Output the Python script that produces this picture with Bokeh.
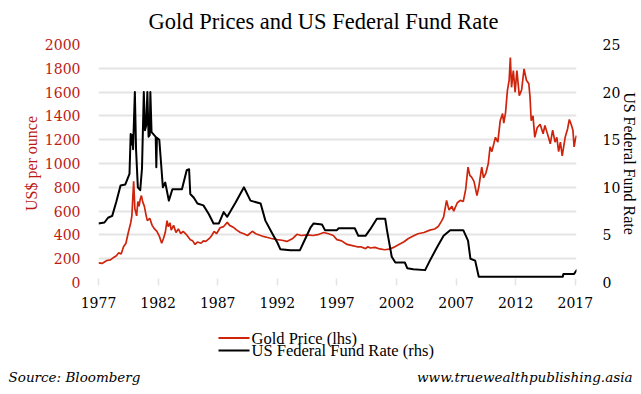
from bokeh.plotting import figure
from bokeh.layouts import column
from bokeh.models import (Range1d, LinearAxis, FixedTicker, Label, ColumnDataSource)
from bokeh.embed import file_html
from bokeh.resources import INLINE

# ---------------- data ----------------
year_ticks = [1977, 1982, 1987, 1992, 1997, 2002, 2007, 2012, 2017]
gold_ticks = [0, 200, 400, 600, 800, 1000, 1200, 1400, 1600, 1800, 2000]
rate_ticks = [0, 5, 10, 15, 20, 25]

gold_year = [1977.0, 1977.3, 1977.7, 1978.0, 1978.3, 1978.5, 1978.7, 1978.9, 1979.1, 1979.3,
             1979.5, 1979.7, 1979.8, 1979.95, 1980.05, 1980.2, 1980.3, 1980.4, 1980.5, 1980.6,
             1980.7, 1980.85, 1981.0, 1981.1, 1981.3, 1981.5, 1981.7, 1981.9, 1982.1, 1982.3,
             1982.45, 1982.6, 1982.75, 1982.85, 1983.0, 1983.1, 1983.3, 1983.5, 1983.7, 1983.9,
             1984.1, 1984.4, 1984.7, 1984.9, 1985.1, 1985.3, 1985.6, 1985.8, 1986.0, 1986.3,
             1986.5, 1986.7, 1986.9, 1987.2, 1987.5, 1987.8, 1988.0, 1988.3, 1988.6, 1988.9,
             1989.2, 1989.5, 1989.9, 1990.2, 1990.6, 1990.9, 1991.1, 1991.5, 1992.0, 1992.4,
             1992.8, 1993.3, 1993.65, 1994.0, 1994.5, 1995.0, 1995.5, 1995.9, 1996.3, 1996.7,
             1997.0, 1997.4, 1997.85, 1998.3, 1998.7, 1999.0, 1999.4, 1999.6, 1999.8, 2000.2,
             2000.6, 2001.0, 2001.4, 2001.75, 2002.2, 2002.6, 2003.0, 2003.4, 2003.8, 2004.3,
             2004.8, 2005.2, 2005.5, 2005.8, 2005.95, 2006.2, 2006.4, 2006.65, 2006.8, 2007.1,
             2007.35, 2007.6, 2007.8, 2008.0, 2008.15, 2008.3, 2008.5, 2008.75, 2008.9, 2009.15,
             2009.3, 2009.5, 2009.7, 2009.85, 2010.0, 2010.3, 2010.5, 2010.7, 2010.9, 2011.0,
             2011.15, 2011.3, 2011.45, 2011.55, 2011.65, 2011.8, 2011.95, 2012.1, 2012.3, 2012.5,
             2012.7, 2012.9, 2013.1, 2013.2, 2013.3, 2013.45, 2013.6, 2013.8, 2014.05, 2014.3,
             2014.45, 2014.6, 2014.75, 2014.9, 2015.1, 2015.3, 2015.45, 2015.6, 2015.75, 2015.9,
             2016.15, 2016.35, 2016.5, 2016.65, 2016.8, 2016.9, 2017.0, 2017.1]
gold_price = [165, 160, 185, 190, 213, 225, 250, 240, 300, 330,
              420, 500, 560, 850, 620, 560, 680, 640, 700, 730,
              680, 640, 560, 520, 540, 480, 450, 430, 390, 330,
              370, 420, 520, 470, 500, 440, 480, 420, 450, 410,
              430, 400, 360, 350, 320, 340, 330, 350, 345, 370,
              395, 430, 410, 460, 470, 505, 480, 465, 440, 420,
              410, 395, 430, 410, 395, 385, 380, 370, 360, 355,
              345, 370, 405, 395, 400, 395, 405, 420, 410, 395,
              360, 350, 320, 310, 300, 300, 285, 300, 290, 295,
              282, 275, 280, 295, 320, 340, 370, 390, 410, 420,
              440, 450, 470, 520, 550, 690, 610, 640, 600, 670,
              690, 680, 780, 970, 900, 885, 850, 730, 800, 970,
              880, 920, 1000, 1140, 1100, 1220, 1180, 1360, 1420, 1340,
              1430, 1610, 1700, 1890, 1640, 1780, 1600, 1780, 1570, 1620,
              1795, 1700, 1670, 1560, 1360, 1400, 1220, 1300, 1330, 1250,
              1320, 1270, 1220, 1165, 1280, 1180, 1220, 1100, 1180, 1065,
              1220, 1290, 1370, 1330, 1280, 1140, 1200, 1235]

rate_year = [1977.0, 1977.5, 1977.8, 1978.15, 1978.5, 1978.85, 1979.25, 1979.6, 1979.7, 1979.8,
             1979.85, 1979.9, 1980.05, 1980.15, 1980.3, 1980.5, 1980.65, 1980.8, 1980.9, 1981.0,
             1981.1, 1981.2, 1981.3, 1981.35, 1981.45, 1981.8, 1981.85, 1981.9, 1982.1, 1982.4,
             1982.6, 1982.9, 1983.2, 1984.0, 1984.4, 1984.6, 1984.7, 1985.0, 1985.3, 1985.8,
             1986.25, 1986.65, 1987.1, 1987.5, 1987.8, 1988.5, 1989.2, 1989.75, 1990.6, 1991.0,
             1991.6, 1992.0, 1992.25, 1993.1, 1993.9, 1994.2, 1994.8, 1995.05, 1995.75, 1996.0,
             1997.0, 1997.15, 1998.5, 1998.8, 1999.4, 1999.8, 2000.35, 2001.05, 2001.2, 2001.6,
             2001.9, 2002.7, 2002.9, 2003.4, 2004.4, 2004.8, 2005.4, 2005.95, 2006.5, 2007.6,
             2008.0, 2008.2, 2008.6, 2008.9, 2015.95, 2016.0, 2016.9, 2017.0, 2017.15]
rate_value = [6.2, 6.3, 6.8, 7.0, 8.5, 10.2, 10.3, 11.4, 15.6, 14.5,
              15.5, 14.0, 20.0, 14.0, 10.0, 9.7, 12.0, 20.0, 16.0, 16.5,
              20.0, 15.3, 15.5, 20.0, 15.8, 15.3, 12.1, 15.2, 15.0, 10.0,
              10.5, 8.6, 9.8, 9.8, 11.8, 11.9, 9.3, 8.9, 8.3, 8.1,
              7.2, 6.2, 6.2, 7.4, 6.9, 8.4, 10.0, 8.6, 8.3, 6.5,
              5.1, 4.2, 3.5, 3.4, 3.4, 4.2, 5.8, 6.2, 6.1, 5.5,
              5.5, 5.7, 5.7, 4.9, 4.9, 5.6, 6.7, 6.7, 5.5, 2.7,
              2.1, 2.1, 1.5, 1.4, 1.3, 2.3, 3.7, 4.9, 5.5, 5.5,
              4.4, 2.5, 2.3, 0.6, 0.6, 0.9, 0.9, 1.1, 1.35]

legend_labels = ["Gold Price (lhs)", "US Federal Fund Rate (rhs)"]
title_text = "Gold Prices and US Federal Fund Rate"
source_text = "Source: Bloomberg"
site_text = "www.truewealthpublishing.asia"

# ---------------- styling ----------------
RED_LINE = "#CF240C"
RED_TEXT = "#BC1A14"
GRID = "#E4E4E4"
SERIF = "Liberation Serif"
NUM = "DejaVu Serif"
W = 641


def blank(h):
    f = figure(width=W, height=h, output_backend="svg", toolbar_location=None,
               x_range=Range1d(0, W), y_range=Range1d(h, 0),
               x_axis_type=None, y_axis_type=None, min_border=0,
               min_border_left=0, min_border_right=0, min_border_top=0,
               min_border_bottom=0, frame_align=False,
               outline_line_color=None, background_fill_color="white",
               border_fill_color="white")
    f.xgrid.visible = False
    f.ygrid.visible = False
    return f


# ---- title strip ----
top = blank(36)
top.add_layout(Label(x=323, y=21, text=title_text, text_font=SERIF,
                     text_font_size="22.5px", text_color="black",
                     text_align="center", text_baseline="middle"))

# ---- main chart ----
p = figure(width=W, height=286, output_backend="svg", toolbar_location=None,
           x_range=Range1d(1977, 2017.1), y_range=Range1d(0, 2000),
           min_border_left=98, min_border_right=65, min_border_top=8,
           min_border_bottom=40, background_fill_color="white",
           border_fill_color="white", outline_line_color=None,
           frame_align=False)
p.extra_y_ranges = {"rate": Range1d(0, 25)}

src_g = ColumnDataSource(dict(x=gold_year, y=gold_price))
src_r = ColumnDataSource(dict(x=rate_year, y=rate_value))
p.line("x", "y", source=src_g, line_color=RED_LINE, line_width=1.7)
p.line("x", "y", source=src_r, line_color="black", line_width=2,
       y_range_name="rate", line_join="round")

p.xgrid.grid_line_color = None
p.ygrid.grid_line_color = GRID
p.ygrid.grid_line_width = 2
p.ygrid.ticker = FixedTicker(ticks=gold_ticks)

xa = p.xaxis[0]
xa.ticker = FixedTicker(ticks=year_ticks)
xa.major_label_overrides = {y: str(y) for y in year_ticks}
xa.axis_line_color = None
xa.major_tick_line_color = GRID
xa.major_tick_line_width = 1.5
xa.major_tick_in = 4
xa.major_tick_out = 3
xa.minor_tick_line_color = None
xa.major_label_standoff = 11
xa.major_label_text_font = NUM
xa.major_label_text_font_size = "14px"
xa.major_label_text_color = "black"

ya = p.yaxis[0]
ya.ticker = FixedTicker(ticks=gold_ticks)
ya.axis_line_color = None
ya.major_tick_line_color = None
ya.minor_tick_line_color = None
ya.major_label_standoff = 12
ya.major_label_text_font = NUM
ya.major_label_text_font_size = "14px"
ya.major_label_text_color = RED_TEXT
ya.axis_label = "US$ per ounce"
ya.axis_label_text_font = SERIF
ya.axis_label_text_font_style = "normal"
ya.axis_label_text_font_size = "16px"
ya.axis_label_text_color = RED_TEXT
ya.axis_label_standoff = 2

ra = LinearAxis(y_range_name="rate", ticker=FixedTicker(ticks=rate_ticks))
ra.axis_line_color = None
ra.major_tick_line_color = None
ra.minor_tick_line_color = None
ra.major_label_standoff = 20
ra.major_label_text_font = NUM
ra.major_label_text_font_size = "14px"
ra.major_label_text_color = "black"
ra.axis_label = "US Federal Fund Rate"
ra.axis_label_text_font = SERIF
ra.axis_label_text_font_style = "normal"
ra.axis_label_text_font_size = "16px"
ra.axis_label_text_color = "black"
ra.axis_label_standoff = -2
p.add_layout(ra, "right")

# ---- legend + footer strip ----
bot = blank(72)
leg_src = ColumnDataSource(dict(x0=[218, 218], x1=[249, 249], y=[15.5, 28],
                                color=[RED_LINE, "black"], label=legend_labels))
bot.segment(x0="x0", y0="y", x1="x1", y1="y", color="color", line_width=2,
            source=leg_src)
for lab, yy in zip(legend_labels, [15.5, 28]):
    bot.add_layout(Label(x=251, y=yy, text=lab, text_font=SERIF,
                         text_font_size="16.5px", text_color="black",
                         text_align="left", text_baseline="middle"))
bot.add_layout(Label(x=8, y=54, text=source_text, text_font=NUM,
                     text_font_style="italic", text_font_size="13.5px",
                     text_color="black", text_align="left", text_baseline="middle"))
bot.add_layout(Label(x=632, y=54, text=site_text, text_font=NUM,
                     text_font_style="italic", text_font_size="13.5px",
                     text_color="black", text_align="right", text_baseline="middle"))

layout = column(top, p, bot, spacing=0)
open("out.html", "w").write(file_html(layout, INLINE))
